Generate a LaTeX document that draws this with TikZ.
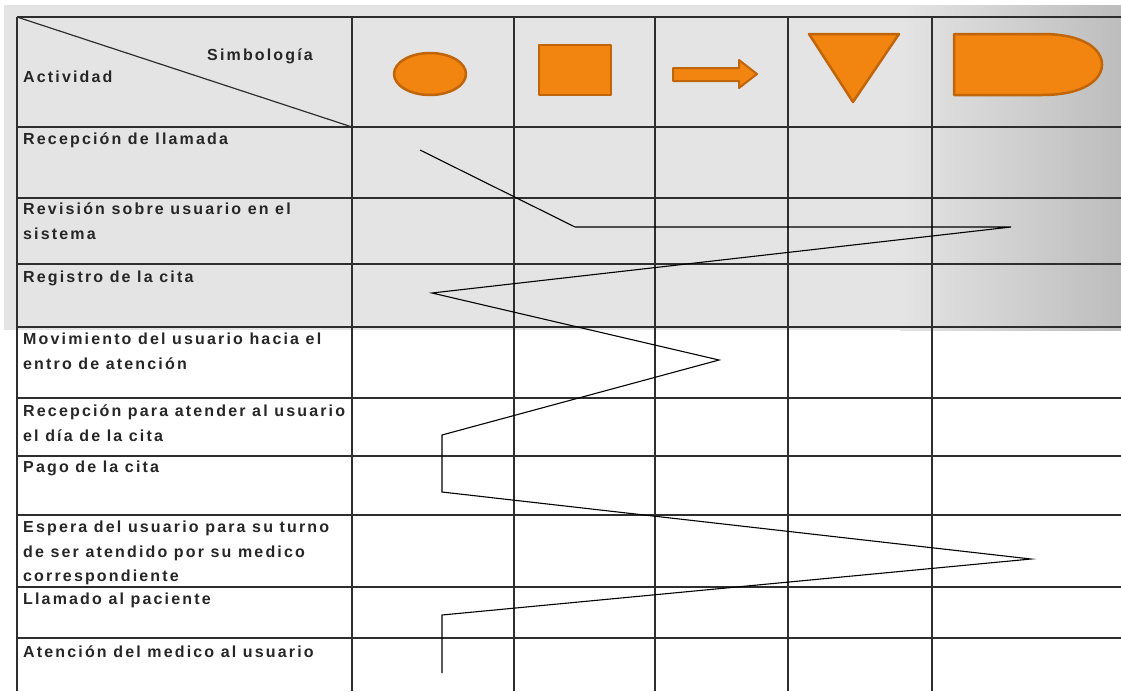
\documentclass[tikz,border=0pt]{standalone}
\usepackage{fontspec}
\setmainfont{Liberation Sans}
\newfontfamily\labfont{Liberation Sans Bold}[LetterSpace=13.5]
\definecolor{gridc}{HTML}{2E2E2E}
\definecolor{symfill}{HTML}{F2850F}
\definecolor{symedge}{HTML}{C0650A}
\definecolor{bggray}{HTML}{E4E4E4}
\definecolor{bgdark}{HTML}{BDBDBD}
\definecolor{txt}{HTML}{262626}
\begin{document}
\begin{tikzpicture}[x=1pt,y=-1pt,
  gridline/.style={draw=gridc,line width=1.4pt},
  sym/.style={fill=symfill,draw=symedge,line width=2.5pt,line join=round},
  lab/.style={anchor=north west,align=left,inner sep=0pt,font=\labfont\fontsize{16}{24.5}\selectfont,text=txt},
  flow/.style={draw=black,line width=1.1pt,line join=miter}]
\useasboundingbox (0,0) rectangle (1121,691);
\fill[white] (0,0) rectangle (1121,691);
\fill[bggray] (4,5) rectangle (900,330);
\shade[left color=bggray,right color=bgdark] (899.5,5) rectangle (1121,330);
% grid
\foreach \x in {17,352,514,655,788,932} \draw[gridline] (\x,17) -- (\x,691);
\foreach \y in {17,127,198,264,327,398,456,515,587,638} \draw[gridline] (17,\y) -- (1121,\y);
\draw[gridline,line width=1.2pt] (17,17) -- (352,127);
% header texts
\node[lab] (simb) at (207,49) {Simbología};
\node[lab] (act) at (23,71) {Actividad};
% symbols
\draw[sym] (430,74) ellipse [x radius=36, y radius=21];
\draw[sym] (539,45) rectangle (611,95);
\draw[sym,line width=2pt] (673,68) -- (739,68) -- (739,60) -- (757,74) -- (739,88) -- (739,81) -- (673,81) -- cycle;
\draw[sym] (809,34) -- (899,34) -- (853,102) -- cycle;
\draw[sym] (954,34) -- (1042,34) .. controls (1085,34) and (1102,50) .. (1102,64.5) .. controls (1102,79) and (1085,95) .. (1042,95) -- (954,95) -- cycle;
% row labels
\node[lab] (r1) at (23,133) {Recepción de llamada};
\node[lab] (r2) at (23,203) {Revisión sobre usuario en el\\sistema};
\node[lab] (r3) at (23,271) {Registro de la cita};
\node[lab] (r4) at (23,333) {Movimiento del usuario hacia el\\entro de atención};
\node[lab] (r5) at (23,405) {Recepción para atender al usuario\\el día de la cita};
\node[lab] (r6) at (23,461) {Pago de la cita};
\node[lab] (r7) at (23,521) {Espera del usuario para su turno\\de ser atendido por su medico\\correspondiente};
\node[lab] (r8) at (23,593) {Llamado al paciente};
\node[lab] (r9) at (23,646) {Atención del medico al usuario};
% flow
\coordinate (p1) at (420,150);
\coordinate (p2) at (575,227);
\coordinate (p3) at (1011,227);
\coordinate (p4) at (432,293);
\coordinate (p5) at (719,360);
\coordinate (p6) at (442,435);
\coordinate (p7) at (442,492);
\coordinate (p8) at (1031,559);
\coordinate (p9) at (442,615);
\coordinate (p10) at (442,673);
\draw[flow] (p1) -- (p2) -- (p3) -- (p4) -- (p5) -- (p6) -- (p7) -- (p8) -- (p9) -- (p10);
\end{tikzpicture}
\end{document}
